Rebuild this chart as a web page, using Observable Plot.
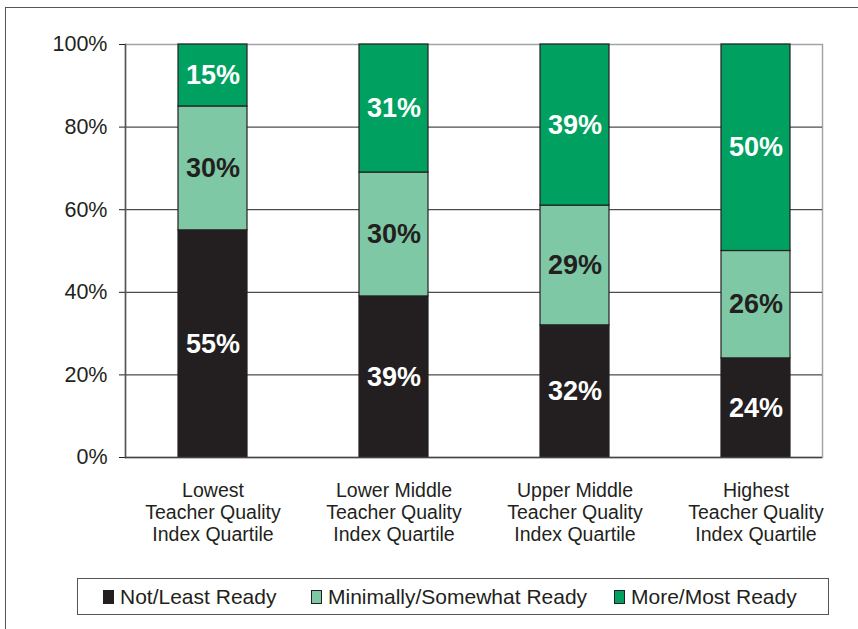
<!DOCTYPE html>
<html>
<head>
<meta charset="utf-8">
<script src="https://cdn.jsdelivr.net/npm/d3@7"></script>
<script src="https://cdn.jsdelivr.net/npm/@observablehq/plot@0.6"></script>
<style>
  html, body { margin: 0; padding: 0; background: #fff; }
  body { width: 858px; height: 629px; position: relative; overflow: hidden; font-family: "Liberation Sans", Arial, sans-serif; color: #231f20; }
  #outer { position: absolute; left: 5px; top: 7px; width: 900px; height: 700px; border-left: 1.5px solid #555; border-top: 1.5px solid #555; }
  #chart { position: absolute; left: 0; top: 0; }
  #legend { position: absolute; left: 77px; top: 578px; width: 752px; height: 37px; border: 1px solid #555; box-sizing: border-box; display: flex; align-items: center; font-size: 21px; }
  .item { position: absolute; display: flex; align-items: center; white-space: nowrap; }
  .sw { width: 11px; height: 14px; border: 1px solid #231f20; margin-right: 6px; box-sizing: border-box; }
</style>
</head>
<body>
<div id="outer"></div>
<div id="chart"></div>
<div id="legend"></div>
<script>
const categories = [
  "Lowest\nTeacher Quality\nIndex Quartile",
  "Lower Middle\nTeacher Quality\nIndex Quartile",
  "Upper Middle\nTeacher Quality\nIndex Quartile",
  "Highest\nTeacher Quality\nIndex Quartile"
];
const series = ["Not/Least Ready", "Minimally/Somewhat Ready", "More/Most Ready"];
const notReady = [55, 39, 32, 24];
const minimallyReady = [30, 30, 29, 26];
const moreReady = [15, 31, 39, 50];
const yTicks = [0, 20, 40, 60, 80, 100];
const colors = ["#231f20", "#7fc8a5", "#00a160"];

const values = [notReady, minimallyReady, moreReady];
const data = [];
series.forEach((s, si) => categories.forEach((c, ci) => data.push({cat: c, series: s, value: values[si][ci]})));

const stacked = () => Plot.stackY({x: "cat", y: "value", z: "series", order: series, text: d => d.value + "%", fontSize: 27, fontWeight: "bold"});

const plot = Plot.plot({
  width: 858,
  height: 560,
  marginTop: 44,
  marginBottom: 103,
  marginLeft: 125,
  marginRight: 36,
  style: {fontFamily: '"Liberation Sans", Arial, sans-serif', color: "#231f20", background: "transparent", overflow: "visible"},
  x: {domain: categories, paddingInner: 0.62, paddingOuter: 0.225, align: 0.62, label: null},
  y: {domain: [0, 100], label: null},
  color: {domain: series, range: colors},
  marks: [
    Plot.frame({stroke: "#a0a4a8", strokeWidth: 1.5}),
    Plot.gridY(yTicks.filter(t => t > 0 && t < 100), {stroke: "#231f20", strokeOpacity: 1, strokeWidth: 1}),
    Plot.barY(data, Plot.stackY({x: "cat", y: "value", fill: "series", order: series, stroke: "#231f20", strokeWidth: 1.2})),
    Plot.text(data, Plot.filter(d => d.series !== series[1], {...stacked(), fill: "white"})),
    Plot.text(data, Plot.filter(d => d.series === series[1], {...stacked(), fill: "#231f20"})),
    Plot.axisY({ticks: yTicks, tickFormat: d => d + "%", tickSize: 6, tickPadding: 12, fontSize: 21.5, stroke: "#231f20", label: null}),
    Plot.axisX({tickSize: 0, tickPadding: 24, fontSize: 19.5, lineHeight: 1.13, label: null}),
    Plot.frame({anchor: "left", stroke: "#555", strokeWidth: 1.5}),
    Plot.ruleY([0], {stroke: "#444", strokeWidth: 1.5})
  ]
});
document.getElementById("chart").appendChild(plot);

const legend = document.getElementById("legend");
const lefts = [25, 233, 536];
series.forEach((s, i) => {
  const it = document.createElement("div");
  it.className = "item";
  it.style.left = lefts[i] + "px";
  const sw = document.createElement("span");
  sw.className = "sw";
  sw.style.background = colors[i];
  const tx = document.createElement("span");
  tx.textContent = s;
  it.appendChild(sw);
  it.appendChild(tx);
  legend.appendChild(it);
});
</script>
</body>
</html>
